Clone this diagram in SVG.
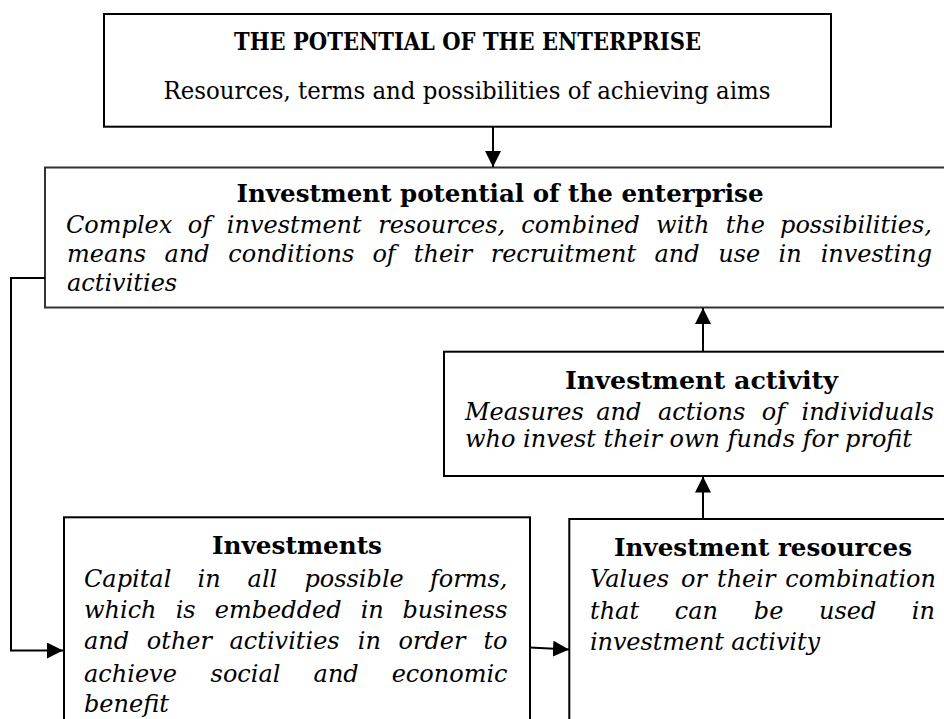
<svg xmlns="http://www.w3.org/2000/svg" width="944" height="719" viewBox="0 0 944 719">
<style>
.box{fill:#fff;stroke:#000;stroke-width:2}
.box2{fill:#fff;stroke:#333;stroke-width:2}
.t{font-family:"DejaVu Serif",serif;fill:#000}
.b{font-weight:bold;font-size:24px;text-anchor:middle}
.i{font-style:italic;font-size:24px}
.top{font-size:24px;text-anchor:middle}
.c{fill:none;stroke:#000;stroke-width:2}
</style>
<defs>
<marker id="ah" viewBox="0 0 16 16" refX="16" refY="8" markerWidth="16" markerHeight="16" markerUnits="userSpaceOnUse" orient="auto">
<path d="M0,0 L16,8 L0,16 Z" fill="#000"/>
</marker>
</defs>

<g id="potential">
<rect class="box" x="104" y="14" width="727" height="112.7"/>
<text class="t top" x="467.5" y="50" font-weight="bold" font-size="25" textLength="467" lengthAdjust="spacingAndGlyphs">THE POTENTIAL OF THE ENTERPRISE</text>
<text class="t top" x="467" y="99" textLength="607" lengthAdjust="spacingAndGlyphs">Resources, terms and possibilities of achieving aims</text>
</g>

<g id="investment-potential">
<rect class="box2" x="45" y="167.5" width="915" height="140"/>
<text class="t b" x="500" y="202" textLength="527" lengthAdjust="spacingAndGlyphs">Investment potential of the enterprise</text>
<text class="t i" y="233"><tspan x="66">Complex</tspan><tspan x="187.7">of</tspan><tspan x="226.8">investment</tspan><tspan x="378.2">resources,</tspan><tspan x="521.2">combined</tspan><tspan x="656.1">with</tspan><tspan x="725.7">the</tspan><tspan x="932" text-anchor="end">possibilities,</tspan></text>
<text class="t i" y="262"><tspan x="67">means</tspan><tspan x="164.6">and</tspan><tspan x="228.3">conditions</tspan><tspan x="372.4">of</tspan><tspan x="413.8">their</tspan><tspan x="490.7">recruitment</tspan><tspan x="654.5">and</tspan><tspan x="718.2">use</tspan><tspan x="778.6">in</tspan><tspan x="932" text-anchor="end">investing</tspan></text>
<text class="t i" x="67" y="291">activities</text>
</g>

<g id="investment-activity">
<rect class="box" x="444" y="351.7" width="516" height="124.3"/>
<text class="t b" x="701.5" y="389" textLength="273" lengthAdjust="spacingAndGlyphs">Investment activity</text>
<text class="t i" y="420"><tspan x="465">Measures</tspan><tspan x="596.3">and</tspan><tspan x="658">actions</tspan><tspan x="761.7">of</tspan><tspan x="934" text-anchor="end">individuals</tspan></text>
<text class="t i" x="465" y="447" textLength="447" lengthAdjust="spacing">who invest their own funds for profit</text>
</g>

<g id="investments">
<rect class="box" x="64" y="517.3" width="466" height="230"/>
<text class="t b" x="297" y="554" textLength="170" lengthAdjust="spacingAndGlyphs">Investments</text>
<text class="t i" y="587"><tspan x="84">Capital</tspan><tspan x="197.6">in</tspan><tspan x="247.6">all</tspan><tspan x="304.4">possible</tspan><tspan x="507.5" text-anchor="end">forms,</tspan></text>
<text class="t i" y="618"><tspan x="84">which</tspan><tspan x="175.7">is</tspan><tspan x="214.8">embedded</tspan><tspan x="360.7">in</tspan><tspan x="507.5" text-anchor="end">business</tspan></text>
<text class="t i" y="649"><tspan x="84">and</tspan><tspan x="146.8">other</tspan><tspan x="229.5">activities</tspan><tspan x="357.8">in</tspan><tspan x="398.5">order</tspan><tspan x="507.5" text-anchor="end">to</tspan></text>
<text class="t i" y="682"><tspan x="84">achieve</tspan><tspan x="210.6">social</tspan><tspan x="313.6">and</tspan><tspan x="507.5" text-anchor="end">economic</tspan></text>
<text class="t i" x="84" y="712">benefit</text>
</g>

<g id="investment-resources">
<rect class="box" x="569.3" y="519" width="390.7" height="230"/>
<text class="t b" x="763" y="556" textLength="298" lengthAdjust="spacingAndGlyphs">Investment resources</text>
<text class="t i" y="587"><tspan x="590">Values</tspan><tspan x="681.1">or</tspan><tspan x="717">their</tspan><tspan x="936" text-anchor="end">combination</tspan></text>
<text class="t i" y="619"><tspan x="590">that</tspan><tspan x="674.8">can</tspan><tspan x="753.8">be</tspan><tspan x="819.1">used</tspan><tspan x="935" text-anchor="end">in</tspan></text>
<text class="t i" x="590" y="650" textLength="230" lengthAdjust="spacing">investment activity</text>
</g>

<g id="connectors">
<line class="c" x1="493" y1="126.7" x2="493" y2="167" marker-end="url(#ah)"/>
<line class="c" x1="703" y1="351.7" x2="703" y2="308" marker-end="url(#ah)"/>
<line class="c" x1="703" y1="519" x2="703" y2="476.5" marker-end="url(#ah)"/>
<polyline class="c" points="45,278 11,278 11,650.5 63,650.5" marker-end="url(#ah)"/>
<line class="c" x1="530" y1="647.5" x2="569" y2="649.5" marker-end="url(#ah)"/>
</g>
</svg>
